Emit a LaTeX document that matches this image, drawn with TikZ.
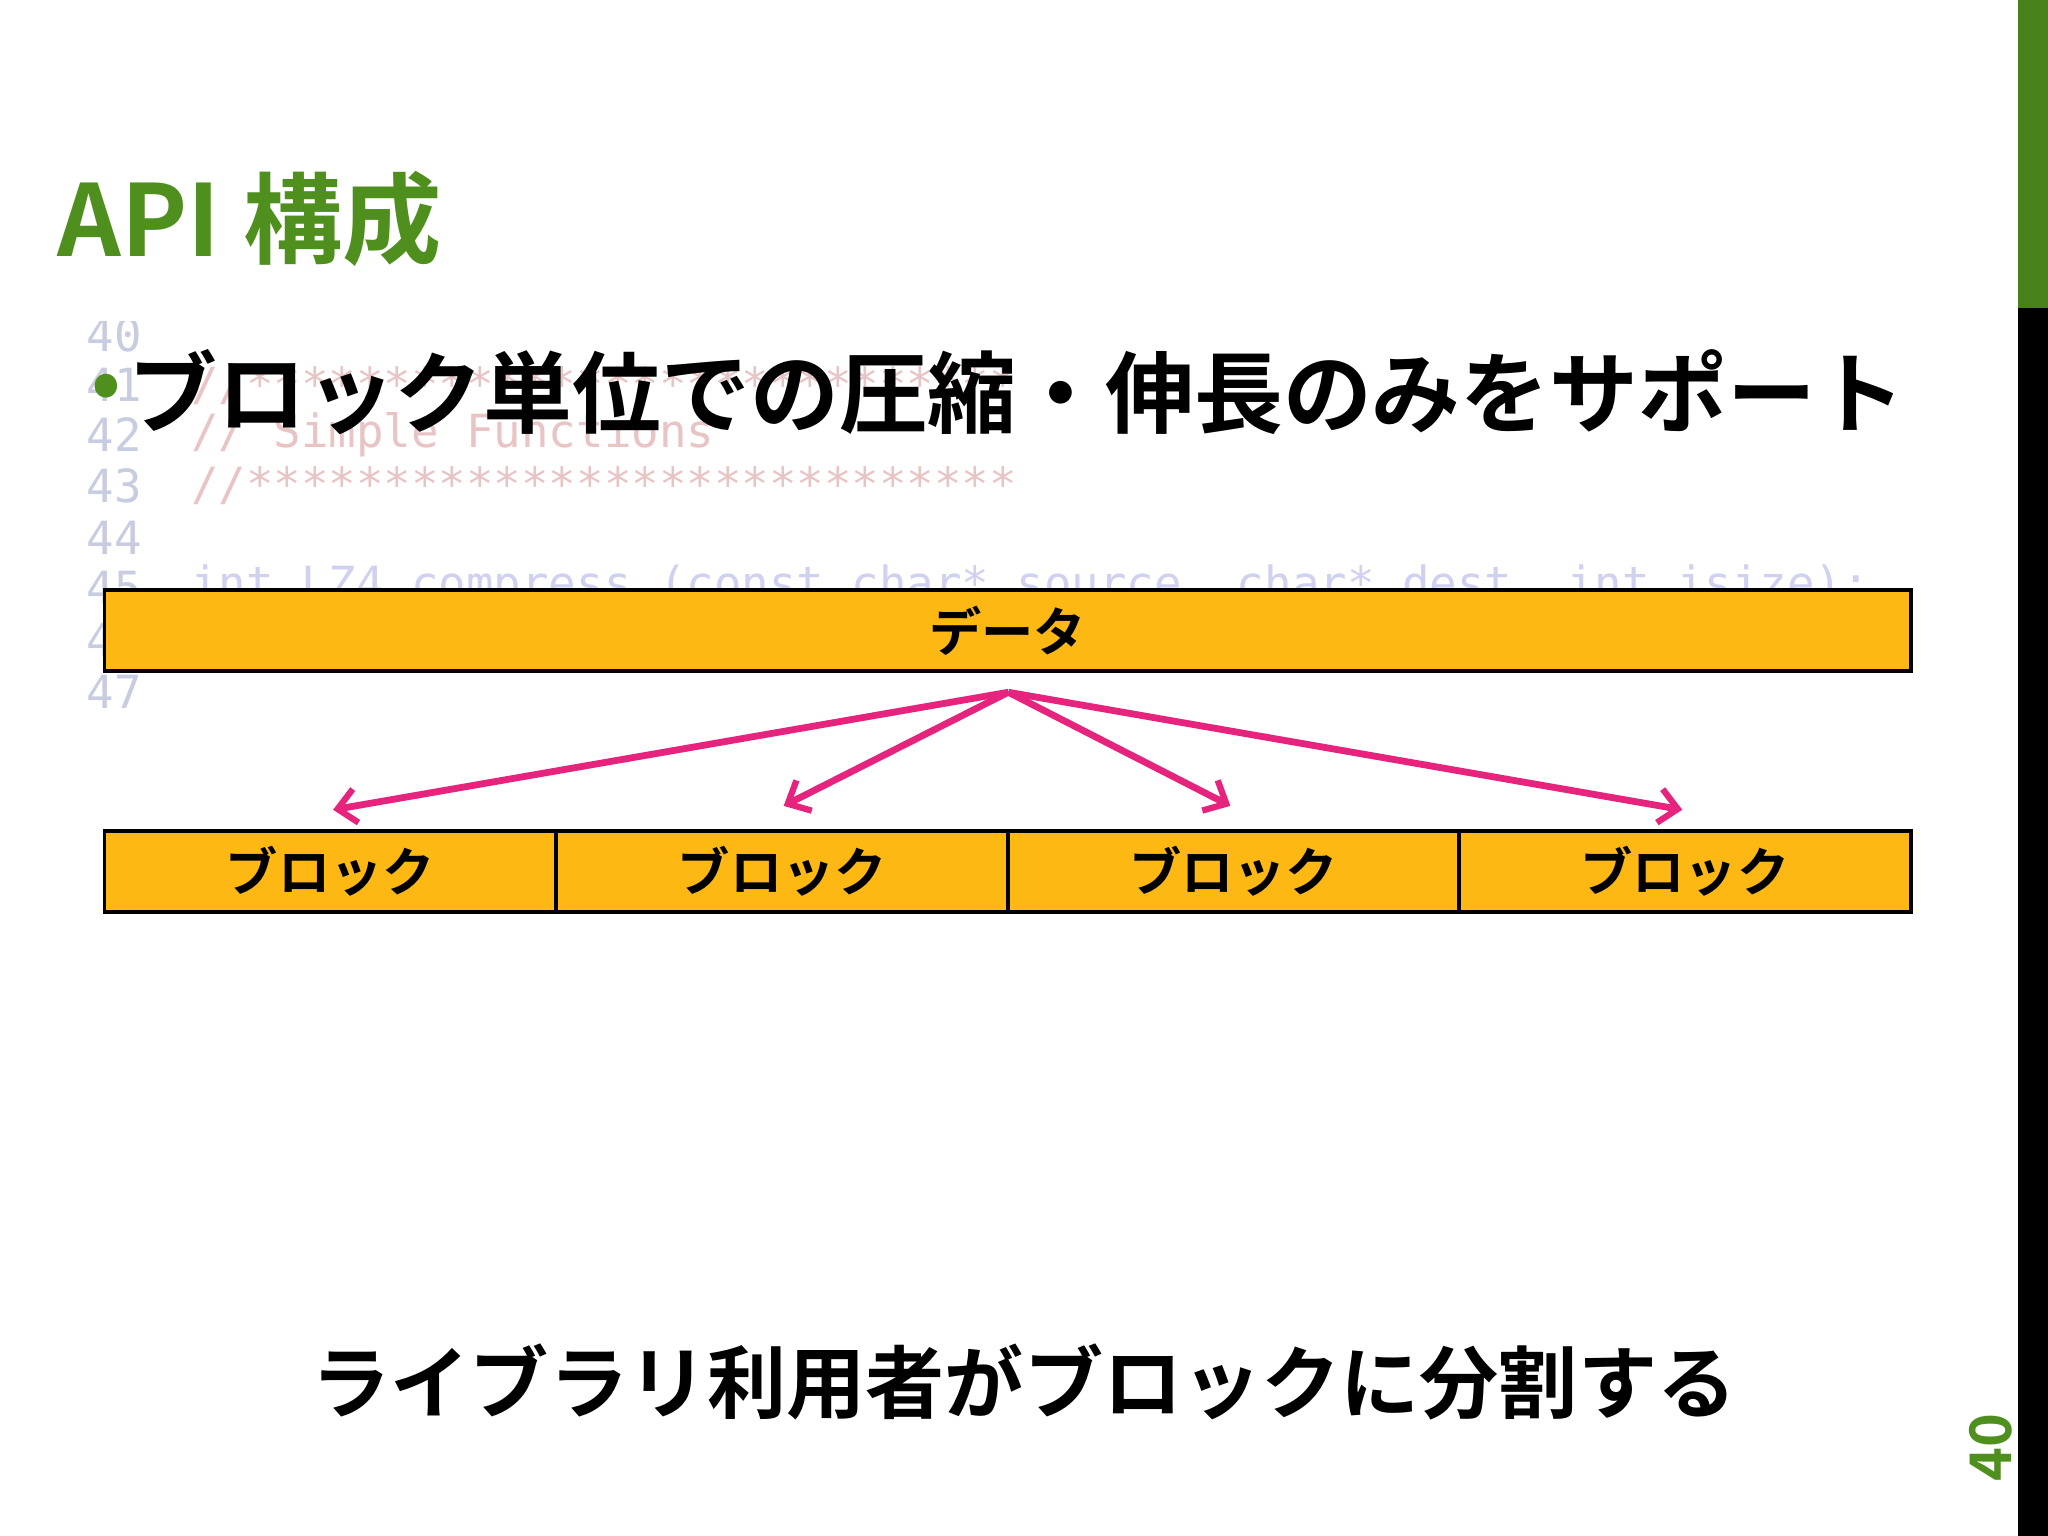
\documentclass[tikz,border=0pt]{standalone}
\usepackage{fontspec}
\setmainfont{Noto Sans CJK JP}[BoldFont={* Bold}]
\newfontfamily\jpb{Noto Sans CJK JP Bold}
\setmonofont{DejaVu Sans Mono}
\usetikzlibrary{arrows.meta}
\definecolor{boxfill}{HTML}{FDB813}
\definecolor{titlegreen}{HTML}{4F8F1D}
\definecolor{arrowpink}{HTML}{E6247E}
\definecolor{lnum}{HTML}{C8CCE0}
\definecolor{cmt}{HTML}{E8C4C4}
\definecolor{kw}{HTML}{D0D0F0}
\tikzset{
  box/.style={draw=black,line width=1.5pt,fill=boxfill,minimum height=31pt,inner sep=0pt,font=\jpb\fontsize{20}{22}\selectfont},
  arr/.style={draw=arrowpink,line width=2.6pt,-{Straight Barb[length=7pt,width=13pt,line width=2.4pt]}},
  code/.style={anchor=west,inner sep=0pt,font=\ttfamily\fontsize{17.5}{17.5}\selectfont},
}
\begin{document}
\begin{tikzpicture}[x=0.5pt,y=-0.5pt]
\useasboundingbox (0,0) rectangle (1568,1176);
\fill[white] (0,0) rectangle (1568,1176);
% right bar
\fill[titlegreen!90!black] (1545,0) rectangle (1568,236);
\fill[black] (1545,236) rectangle (1568,1176);
% faded code
\foreach \n/\y in {41/295,42/333,43/372,44/412,45/450,46/490,47/530}
  \node[code,text=lnum] (ln\n) at (66,\y) {\n};
\node[code,text=lnum] (ln40) at (66,256) {40};
\node[code,text=cmt] (c41) at (146,295) {//****************************};
\node[code,text=cmt] (c42) at (146,333) {// Simple Functions};
\node[code,text=cmt] (c43) at (146,372) {//****************************};
\node[code,text=kw] (c45) at (146,450) {int LZ4\_compress  (const char* source, char* dest, int isize);};
\fill[white] (0,236) rectangle (1540,246);
% title
\node[anchor=west,inner sep=0pt,text=titlegreen,font=\jpb\fontsize{38}{42}\selectfont] (title) at (44,168) {API 構成};
% bullet
\node[anchor=west,inner sep=0pt,text=titlegreen,font=\jpb\fontsize{30}{30}\selectfont] (dot) at (70,300) {•};
\node[anchor=west,inner sep=0pt,font=\jpb\fontsize{34}{36}\selectfont] (bullet) at (98,300) {ブロック単位での圧縮・伸長のみをサポート};
% data box
\node[box,minimum width=691.5pt] (data) at (771.5,483) {データ};
% blocks
\node[box,minimum width=173pt] (b1) at (253,667) {ブロック};
\node[box,minimum width=173pt] (b2) at (599,667) {ブロック};
\node[box,minimum width=172.5pt] (b3) at (944.5,667) {ブロック};
\node[box,minimum width=173pt] (b4) at (1290,667) {ブロック};
% arrows
\coordinate (src) at (772,530);
\coordinate (t1) at (255,620);
\coordinate (t2) at (600,617);
\coordinate (t3) at (942,617);
\coordinate (t4) at (1288,620);
\foreach \t in {t1,t2,t3,t4} \draw[arr] (src) -- (\t);
% bottom text
\node[inner sep=0pt,font=\jpb\fontsize{30.3}{34}\selectfont] (note) at (784,1058) {ライブラリ利用者がブロックに分割する};
% page number
\node[rotate=90,inner sep=0pt,text=titlegreen,font=\jpb\fontsize{22}{22}\selectfont] (page) at (1524,1108) {40};
\end{tikzpicture}
\end{document}
